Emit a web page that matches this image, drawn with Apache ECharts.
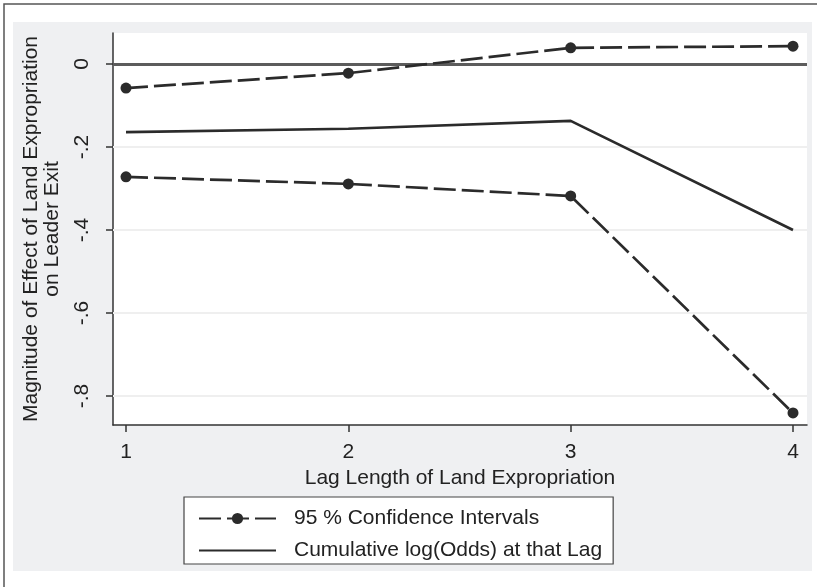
<!DOCTYPE html>
<html>
<head>
<meta charset="utf-8">
<script src="https://cdn.jsdelivr.net/npm/echarts@6/dist/echarts.min.js"></script>
<style>html,body{margin:0;padding:0;background:#fff;}#main{width:817px;height:587px;}</style>
</head>
<body>
<div id="main"></div>
<script>
var lags = [1, 2, 3, 4];
var upperCI = [-0.058, -0.022, 0.039, 0.043];
var cumulative = [-0.164, -0.156, -0.137, -0.400];
var lowerCI = [-0.272, -0.289, -0.318, -0.841];
var yTicks = [-0.8, -0.6, -0.4, -0.2, 0];
var xTicks = [1, 2, 3, 4];
var ciName = '95 % Confidence Intervals';
var cumName = 'Cumulative log(Odds) at that Lag';

function pairs(xs, ys) { return xs.map(function (x, i) { return [x, ys[i]]; }); }
function fmtY(v) {
  if (Math.abs(v) < 1e-9) return '0';
  var s = String(Math.round(v * 10) / 10);
  return s.replace('0.', '.');
}

var FONT = '"Liberation Sans", Arial, sans-serif';
var dark = '#2b2b2b';

var chart = echarts.init(document.getElementById('main'), null, { renderer: 'canvas' });
chart.setOption({
  backgroundColor: '#ffffff',
  animation: false,
  textStyle: { fontFamily: FONT },
  graphic: [
    { type: 'rect', z: -20, shape: { x: 4, y: 4, width: 900, height: 700 },
      style: { fill: '#ffffff', stroke: '#555555', lineWidth: 1.5 }, silent: true },
    { type: 'rect', z: -19, shape: { x: 13, y: 22, width: 799, height: 549 },
      style: { fill: '#eff0f2' }, silent: true }
  ],
  grid: {
    left: 113, top: 33, right: 10, bottom: 162,
    show: true, backgroundColor: '#ffffff', borderWidth: 0
  },
  legend: {
    orient: 'vertical',
    left: 184, top: 497,
    padding: [11, 11, 3, 14],
    itemGap: 11,
    itemWidth: 77, itemHeight: 14,
    borderColor: '#444', borderWidth: 1.2,
    backgroundColor: '#ffffff',
    data: [
      { name: ciName },
      { name: cumName, itemStyle: { opacity: 0 } }
    ],
    textStyle: { fontFamily: FONT, fontSize: 21, lineHeight: 21, color: '#222', padding: [0, 0, 0, 13] }
  },
  xAxis: {
    type: 'value',
    min: 0.9415, max: 4.063,
    name: 'Lag Length of Land Expropriation',
    nameLocation: 'middle', nameGap: 41,
    nameTextStyle: { fontFamily: FONT, fontSize: 21, color: '#222' },
    axisLine: { show: true, onZero: false, lineStyle: { color: '#333', width: 1.5 } },
    axisTick: { show: true, length: 7, customValues: xTicks, lineStyle: { color: '#333', width: 1.5 } },
    axisLabel: { customValues: xTicks, margin: 17, fontFamily: FONT, fontSize: 21, color: '#222',
      formatter: function (v) { return String(v); } },
    splitLine: { show: false }
  },
  yAxis: {
    type: 'value',
    min: -0.870, max: 0.0747,
    name: 'Magnitude of Effect of Land Expropriation\non Leader Exit',
    nameLocation: 'middle', nameGap: 50, nameRotate: 90,
    nameTextStyle: { fontFamily: FONT, fontSize: 21, color: '#222', lineHeight: 21 },
    axisLine: { show: true, onZero: false, lineStyle: { color: '#333', width: 1.5 } },
    axisTick: { show: true, length: 7, customValues: yTicks, lineStyle: { color: '#333', width: 1.5 } },
    axisLabel: { customValues: yTicks, rotate: 90, margin: 20, fontFamily: FONT, fontSize: 21, color: '#222',
      formatter: fmtY },
    splitLine: { show: false }
  },
  series: [
    {
      name: ciName, type: 'line', data: pairs(lags, upperCI),
      symbol: 'circle', symbolSize: 11, showSymbol: true,
      itemStyle: { color: dark },
      lineStyle: { color: dark, width: 2.7, type: [22, 6] },
      z: 5,
      markLine: {
        silent: true, symbol: 'none', label: { show: false },
        lineStyle: { color: '#efefef', width: 2, type: 'solid' },
        data: [{ yAxis: -0.8 }, { yAxis: -0.6 }, { yAxis: -0.4 }, { yAxis: -0.2 }],
        z: 1
      }
    },
    {
      name: ciName, type: 'line', data: pairs(lags, lowerCI),
      symbol: 'circle', symbolSize: 11, showSymbol: true,
      itemStyle: { color: dark },
      lineStyle: { color: dark, width: 2.7, type: [22, 6] },
      z: 5
    },
    {
      name: cumName, type: 'line', data: pairs(lags, cumulative),
      symbol: 'none', showSymbol: false,
      itemStyle: { color: dark },
      lineStyle: { color: dark, width: 2.7, type: 'solid' },
      z: 5,
      markLine: {
        silent: true, symbol: 'none', label: { show: false },
        lineStyle: { color: '#5c5c5c', width: 3, type: 'solid' },
        data: [{ yAxis: 0 }],
        z: 2
      }
    }
  ]
});
</script>
</body>
</html>
